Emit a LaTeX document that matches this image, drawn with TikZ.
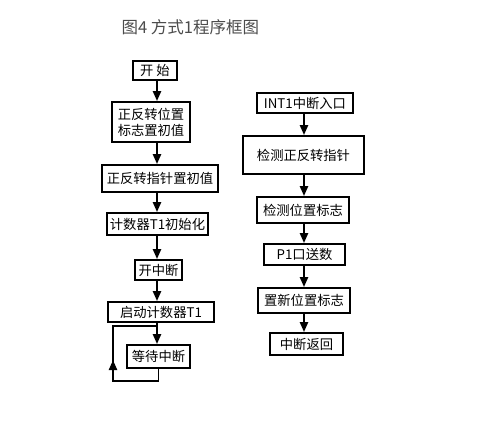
\documentclass[tikz,border=0pt]{standalone}
\usepackage{fontspec}
\newfontfamily\cjk{Noto Sans CJK SC}
\usetikzlibrary{arrows.meta}

\begin{document}
\begin{tikzpicture}[x=1pt,y=-1pt,
  box/.style={draw, line width=1.8pt, inner sep=0pt, align=center,
    font=\cjk\fontsize{13.3}{16}\selectfont},
  arr/.style={line width=2.2pt, -{Triangle[length=10pt,width=8pt]}},
  loopline/.style={line width=1.8pt}]

\useasboundingbox (0,0) rectangle (491,426);
\fill[white] (0,0) rectangle (491,426);

\node[anchor=west, text=black!70, font=\cjk\fontsize{16.5}{18}\selectfont] (title) at (118,27) {图4 方式1程序框图};

\coordinate (lx) at (157,0);
\coordinate (rx) at (304,0);

\node[box, minimum width=44pt, minimum height=19pt] (start) at (155,70.5) {开\ 始};
\node[box, minimum width=78pt, minimum height=40pt] (flag) at (151,122) {正反转位置\\标志置初值};
\node[box, minimum width=116pt, minimum height=27pt] (ptr) at (160,178.5) {正反转指针置初值};
\node[box, minimum width=101pt, minimum height=22pt] (cnt) at (157.5,224) {计数器T1初始化};
\node[box, minimum width=47pt, minimum height=20pt] (ei) at (158.5,270) {开中断};
\node[box, minimum width=106pt, minimum height=20pt] (run) at (161,312) {启动计数器T1};
\node[box, minimum width=63pt, minimum height=23pt] (wait) at (158.5,356.5) {等待中断};

\node[box, minimum width=96pt, minimum height=20pt] (int) at (305,103) {INT1中断入口};
\node[box, minimum width=121pt, minimum height=38pt] (chk) at (303.5,155) {检测正反转指针};
\node[box, minimum width=92pt, minimum height=26pt] (pos) at (303,210) {检测位置标志};
\node[box, minimum width=81pt, minimum height=21pt] (p1) at (304.5,254.5) {P1口送数};
\node[box, minimum width=92pt, minimum height=25pt] (newpos) at (304,300.5) {置新位置标志};
\node[box, minimum width=73pt, minimum height=22pt] (ret) at (306.5,344) {中断返回};

\draw[arr] (start.south -| lx) -- (flag.north -| lx);
\draw[arr] (flag.south -| lx) -- (ptr.north -| lx);
\draw[arr] (ptr.south -| lx) -- (cnt.north -| lx);
\draw[arr] (cnt.south -| lx) -- (ei.north -| lx);
\draw[arr] (ei.south -| lx) -- (run.north -| lx);
\draw[arr] (run.south -| lx) -- (wait.north -| lx);

\coordinate (lpbl) at (113,381);
\coordinate (lptl) at (113,326);
\coordinate (lpm) at (113,360);
\draw[loopline] (wait.south) |- (lpbl) -- (lptl) -- (lptl -| lx);
\draw[arr] (lpbl) -- (lpm);

\draw[arr] (int.south -| rx) -- (chk.north -| rx);
\draw[arr] (chk.south -| rx) -- (pos.north -| rx);
\draw[arr] (pos.south -| rx) -- (p1.north -| rx);
\draw[arr] (p1.south -| rx) -- (newpos.north -| rx);
\draw[arr] (newpos.south -| rx) -- (ret.north -| rx);

\end{tikzpicture}
\end{document}
